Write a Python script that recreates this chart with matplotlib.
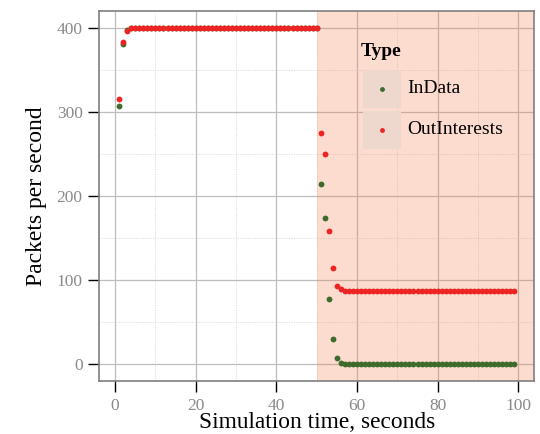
import numpy as np
import matplotlib
matplotlib.use("Agg")
import matplotlib.pyplot as plt
from matplotlib.patches import Rectangle
from matplotlib.lines import Line2D

# simulation time (seconds)
time_s = np.arange(1, 100)

in_data = [
    307, 381, 397, 400, 400, 400, 400, 400, 400, 400,
    400, 400, 400, 400, 400, 400, 400, 400, 400, 400,
    400, 400, 400, 400, 400, 400, 400, 400, 400, 400,
    400, 400, 400, 400, 400, 400, 400, 400, 400, 400,
    400, 400, 400, 400, 400, 400, 400, 400, 400, 400,
    214, 174, 77, 30, 7, 2, 0, 0, 0, 0,
    0, 0, 0, 0, 0, 0, 0, 0, 0, 0,
    0, 0, 0, 0, 0, 0, 0, 0, 0, 0,
    0, 0, 0, 0, 0, 0, 0, 0, 0, 0,
    0, 0, 0, 0, 0, 0, 0, 0, 0,
]
out_interests = [
    315, 383, 396, 400, 400, 400, 400, 400, 400, 400,
    400, 400, 400, 400, 400, 400, 400, 400, 400, 400,
    400, 400, 400, 400, 400, 400, 400, 400, 400, 400,
    400, 400, 400, 400, 400, 400, 400, 400, 400, 400,
    400, 400, 400, 400, 400, 400, 400, 400, 400, 400,
    275, 250, 158, 114, 93, 89, 87, 87, 87, 87,
    87, 87, 87, 87, 87, 87, 87, 87, 87, 87,
    87, 87, 87, 87, 87, 87, 87, 87, 87, 87,
    87, 87, 87, 87, 87, 87, 87, 87, 87, 87,
    87, 87, 87, 87, 87, 87, 87, 87, 87,
]
series_names = ["InData", "OutInterests"]
series_colors = ["#3E6B2C", "#EE2424"]
failure_start = 50

plt.rcParams["font.family"] = ["Liberation Serif", "DejaVu Serif"]

fig = plt.figure(figsize=(5.4, 4.34), dpi=100)
ax = fig.add_axes([0.184, 0.122, 0.805, 0.853])

ax.set_xlim(-3.9, 103.9)
ax.set_ylim(-20, 420)
ax.set_xticks([0, 20, 40, 60, 80, 100])
ax.set_xticks([10, 30, 50, 70, 90], minor=True)
ax.set_yticks([0, 100, 200, 300, 400])
ax.set_yticks([50, 150, 250, 350], minor=True)

ax.set_axisbelow(True)
ax.grid(True, which="major", color="#BDBDBD", lw=0.9, ls="-")
ax.grid(True, which="minor", color="#D8D8D8", lw=0.7, ls=(0, (1, 1.5)))

# shaded period after the link failure
ax.axvspan(failure_start, 110, color="#F48254", alpha=0.28, lw=0, zorder=1)

ax.plot(time_s, in_data, "o", color=series_colors[0], ms=4.2, mew=0, zorder=3)
ax.plot(time_s, out_interests, "o", color=series_colors[1], ms=4.2, mew=0, zorder=4)

for sp in ax.spines.values():
    sp.set_color("#7F7F7F")
    sp.set_linewidth(1.2)

ax.tick_params(which="major", length=8, width=1, color="black",
               labelcolor="#8A8A8A", labelsize=12.5, pad=4)
ax.tick_params(which="minor", length=0)

ax.set_xlabel("Simulation time, seconds", fontsize=16.8, labelpad=-1)
ax.set_ylabel("Packets per second", fontsize=17, labelpad=7)

# legend drawn inside the panel like ggplot
tr = ax.transAxes
def fx(px):
    return (px - 99.3) / (533.8 - 99.3)
def fy(py):
    return (381 - py) / (381 - 11)

ax.text(fx(361), fy(52), "Type", transform=tr, fontsize=14,
        fontweight="bold", va="center", ha="left", zorder=6)
key_rows = [89, 130]
for name, col, yy in zip(series_names, series_colors, key_rows):
    ax.add_patch(Rectangle((fx(363), fy(yy + 19)), fx(401) - fx(363),
                           fy(yy - 19) - fy(yy + 19), transform=tr,
                           facecolor="#EED8CE", edgecolor="none", zorder=5))
    ax.add_line(Line2D([fx(382)], [fy(yy)], transform=tr, marker="o",
                       color=col, ms=3.5, mew=0, zorder=6))
    ax.text(fx(407), fy(yy), name, transform=tr, fontsize=14,
            va="center", ha="left", zorder=6)

fig.savefig("out.png", dpi=100)
